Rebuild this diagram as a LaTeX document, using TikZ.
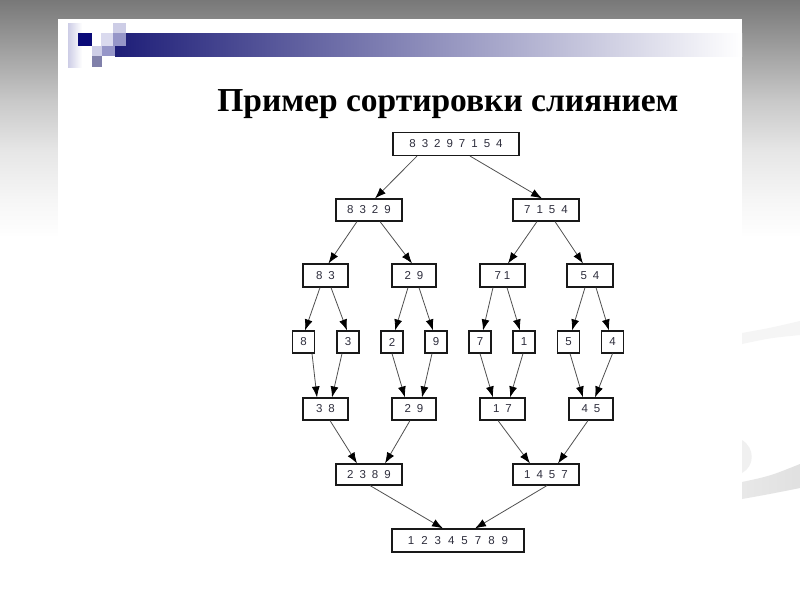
\documentclass[tikz,border=0pt]{standalone}
\usepackage{fontspec}
\setmainfont{Liberation Sans}
\newfontfamily\titlefont{Liberation Serif}
\usetikzlibrary{arrows.meta,calc}
\definecolor{g0}{RGB}{120,120,120}
\definecolor{g1}{RGB}{160,160,160}
\definecolor{g2}{RGB}{200,200,200}
\definecolor{g3}{RGB}{230,230,230}
\definecolor{g4}{RGB}{246,246,246}
\definecolor{g5}{RGB}{254,254,254}
\definecolor{navy}{RGB}{10,10,120}
\definecolor{barnavy}{RGB}{30,30,120}
\definecolor{sqlight}{RGB}{205,205,230}
\definecolor{sqpale}{RGB}{218,218,238}
\definecolor{sqmed}{RGB}{150,150,200}
\definecolor{linegray}{RGB}{80,80,80}
\definecolor{digit}{RGB}{45,45,60}
\newcommand{\widesp}{\spaceskip=6pt\relax}
\newcommand{\widersp}{\spaceskip=7pt\relax}
\tikzset{
  box/.style={draw=black!90, line width=1.1pt, inner sep=0pt, minimum height=22pt,
    text=digit, font=\fontsize{11.5}{12}\selectfont\widesp},
  arr/.style={draw=linegray, line width=0.8pt, -{Latex[length=11pt,width=8pt,color=black]}}
}
\newcommand{\conn}[4]{\draw[arr] ($(#1.south)+(#2,0)$) -- ($(#3.north)+(#4,0)$);}
\begin{document}
\begin{tikzpicture}[x=1pt,y=-1pt]
\useasboundingbox (0,0) rectangle (800,600);
% background
\fill[white] (0,0) rectangle (800,600);
\shade[top color=g0, bottom color=g1] (0,0) rectangle (800,50.5);
\shade[top color=g1, bottom color=g2] (0,50) rectangle (800,100.5);
\shade[top color=g2, bottom color=g3] (0,100) rectangle (800,150.5);
\shade[top color=g3, bottom color=g4] (0,150) rectangle (800,200.5);
\shade[top color=g4, bottom color=g5] (0,200) rectangle (800,235);
% right-side faint swooshes
\fill[black!4] (742,333) .. controls (770,328) .. (800,321) -- (800,335) .. controls (770,338) .. (742,344) -- cycle;
\fill[black!6] (742,440) .. controls (755,448) and (755,466) .. (742,473) -- cycle;
\shade[left color=black!9, right color=black!12] (742,482) .. controls (770,476) .. (800,464) -- (800,488) .. controls (770,494) .. (742,499) -- cycle;
% panel
\fill[white] (58,19) rectangle (742,600);
% header bar
\shade[left color=barnavy, right color=white] (115,33) rectangle (742,56);
\shade[left color=sqlight, right color=white] (68,23) rectangle (82,67);
\fill[navy] (78,33) rectangle (92,46);
\fill[sqlight] (113,23) rectangle (126,33);
\fill[sqmed] (113,33) rectangle (126,46);
\fill[sqpale] (101,33) rectangle (113,46);
\fill[sqlight] (92,46) rectangle (102,56);
\fill[sqmed] (102,46) rectangle (115,56);
\fill[sqmed!85!black] (92,56) rectangle (102,67);
% title
\node[anchor=base, inner sep=0pt, font=\titlefont\fontsize{33.5}{35}\selectfont\bfseries] (title) at (448,111) {Пример сортировки слиянием};
% tree
\node[box, minimum width=126pt, minimum height=23pt] (n0) at (456,144) {8 3 2 9 7 1 5 4};
\node[box, minimum width=66pt] (n1) at (369,210) {8 3 2 9};
\node[box, minimum width=66pt] (n2) at (546,210) {7 1 5 4};
\node[box, minimum width=45pt, minimum height=23pt] (n3) at (325.5,275.5) {8 3};
\node[box, minimum width=44pt, minimum height=23pt] (n4) at (414,275.5) {2 9};
\node[box, minimum width=45pt, minimum height=23pt] (n5) at (502.5,275.5) {7\hspace{3pt}1};
\node[box, minimum width=46pt, minimum height=23pt] (n6) at (590,275.5) {5 4};
\node[box, minimum width=22pt] (l8) at (303.5,342) {8};
\node[box, minimum width=22pt] (l3) at (348,342) {3};
\node[box, minimum width=22pt] (l2) at (392,342) {2};
\node[box, minimum width=22pt] (l9) at (436,342) {9};
\node[box, minimum width=22pt] (l7) at (480,342) {7};
\node[box, minimum width=22pt] (l1) at (524,342) {1};
\node[box, minimum width=22pt] (l5) at (568.5,342) {5};
\node[box, minimum width=22pt] (l4) at (612.5,342) {4};
\node[box, minimum width=45pt] (m38) at (325.5,409) {3 8};
\node[box, minimum width=44pt] (m29) at (414,409) {2 9};
\node[box, minimum width=45pt] (m17) at (502.5,409) {1 7};
\node[box, minimum width=44pt] (m45) at (591,409) {4 5};
\node[box, minimum width=66pt, minimum height=21pt] (m2389) at (369,474.5) {2 3 8 9};
\node[box, minimum width=66pt, minimum height=21pt] (m1457) at (546,474.5) {1 4 5 7};
\node[box, minimum width=132pt, minimum height=23pt, font=\fontsize{11.5}{12}\selectfont\widersp] (fin) at (458,540.5) {1 2 3 4 5 7 8 9};
% connectors
\conn{n0}{-39}{n1}{6}
\conn{n0}{14}{n2}{-4}
\conn{n1}{-12}{n3}{3}
\conn{n1}{11}{n4}{-2}
\conn{n2}{-9}{n5}{5.5}
\conn{n2}{9}{n6}{-7}
\conn{n3}{-5.5}{l8}{1.5}
\conn{n3}{5.5}{l3}{-1}
\conn{n4}{-6}{l2}{3}
\conn{n4}{5}{l9}{-3}
\conn{n5}{-9.5}{l7}{3}
\conn{n5}{4.5}{l1}{-4}
\conn{n6}{-5}{l5}{3.5}
\conn{n6}{6}{l4}{-3.5}
\conn{l8}{8.5}{m38}{-8.5}
\conn{l3}{-6}{m38}{6.5}
\conn{l2}{0}{m29}{-9}
\conn{l9}{-4}{m29}{8}
\conn{l7}{0}{m17}{-9.5}
\conn{l1}{-1}{m17}{7.5}
\conn{l5}{1.5}{m45}{-8}
\conn{l4}{0}{m45}{4}
\conn{m38}{4.5}{m2389}{-12}
\conn{m29}{-4}{m2389}{16}
\conn{m17}{-4.5}{m1457}{-16}
\conn{m45}{-3}{m1457}{12}
\conn{m2389}{1}{fin}{-15}
\conn{m1457}{1}{fin}{17}
\end{tikzpicture}
\end{document}
